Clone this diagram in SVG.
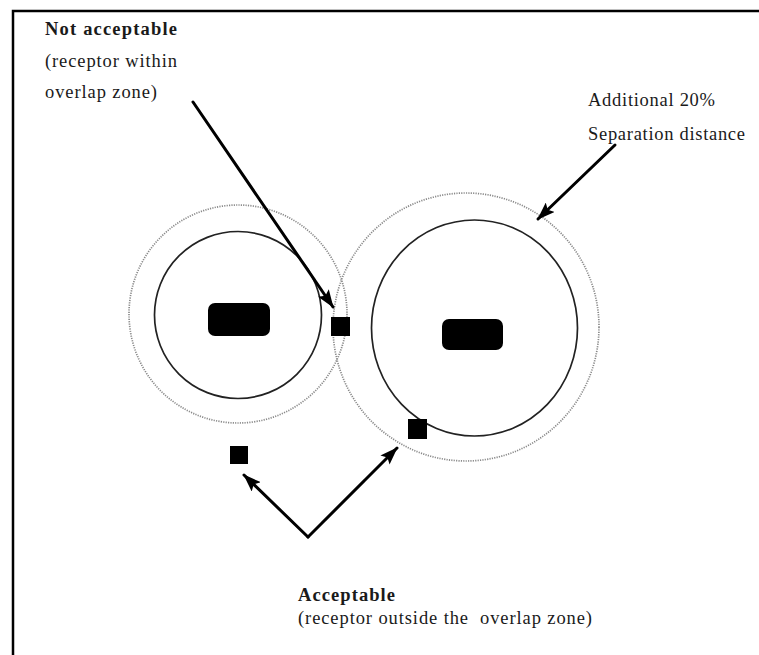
<svg xmlns="http://www.w3.org/2000/svg" width="759" height="655" viewBox="0 0 759 655">
<style>
.t{font-family:"Liberation Serif","Times New Roman",serif;font-size:18.5px;fill:#1a1a1a;white-space:pre}
.b{font-weight:bold}
.inner{fill:none;stroke:#222;stroke-width:1.7}
.outer{fill:none;stroke:#8a8a8a;stroke-width:1.7;stroke-dasharray:1.2 1.2}
.src{fill:#000}
.rec{fill:#000}
.arr{fill:none;stroke:#000;stroke-width:3;stroke-linecap:round;stroke-linejoin:miter}
</style>
<defs>
<marker id="ah" markerUnits="userSpaceOnUse" markerWidth="18" markerHeight="13" refX="17" refY="6.5" orient="auto">
<path d="M0,0 L18,6.5 L0,13 L3.5,6.5 Z" fill="#000"/>
</marker>
</defs>
<rect x="0" y="0" width="759" height="655" fill="#fff"/>
<path d="M13,660 L13,11 L765,11" fill="none" stroke="#000" stroke-width="2.5"/>

<g id="zone-left">
<circle class="outer" cx="238" cy="314" r="109"/>
<circle class="inner" cx="238" cy="315" r="83.5"/>
<rect class="src" x="208" y="303" width="62" height="33" rx="7"/>
</g>
<g id="zone-right">
<ellipse class="outer" cx="466" cy="327" rx="133" ry="134"/>
<ellipse class="inner" cx="474.5" cy="328" rx="103" ry="108"/>
<rect class="src" x="442" y="319" width="61" height="31" rx="7"/>
</g>
<g id="receptor-overlap"><rect class="rec" x="331" y="317" width="19" height="19"/></g>
<g id="receptor-right"><rect class="rec" x="408" y="419" width="19" height="20"/></g>
<g id="receptor-left"><rect class="rec" x="230" y="446" width="18" height="18"/></g>

<g id="label-not-acceptable">
<text class="t b" x="45" y="35" textLength="132" lengthAdjust="spacing">Not acceptable</text>
<text class="t" x="45" y="67" textLength="132" lengthAdjust="spacing">(receptor within</text>
<text class="t" x="45" y="98" textLength="112" lengthAdjust="spacing">overlap zone)</text>
</g>
<g id="label-additional">
<text class="t" x="588" y="106" textLength="127" lengthAdjust="spacing">Additional 20%</text>
<text class="t" x="588" y="140" textLength="157" lengthAdjust="spacing">Separation distance</text>
</g>
<g id="label-acceptable">
<text class="t b" x="298" y="601" textLength="97" lengthAdjust="spacing">Acceptable</text>
<text class="t" x="298" y="624" textLength="294" lengthAdjust="spacing" xml:space="preserve">(receptor outside the  overlap zone)</text>
</g>

<g id="connectors">
<line class="arr" x1="193" y1="102" x2="333" y2="307" marker-end="url(#ah)"/>
<line class="arr" x1="615" y1="145" x2="538" y2="219" marker-end="url(#ah)"/>
<line class="arr" x1="308" y1="537" x2="244" y2="475" marker-end="url(#ah)"/>
<line class="arr" x1="308" y1="537" x2="397" y2="448" marker-end="url(#ah)"/>
</g>
</svg>
